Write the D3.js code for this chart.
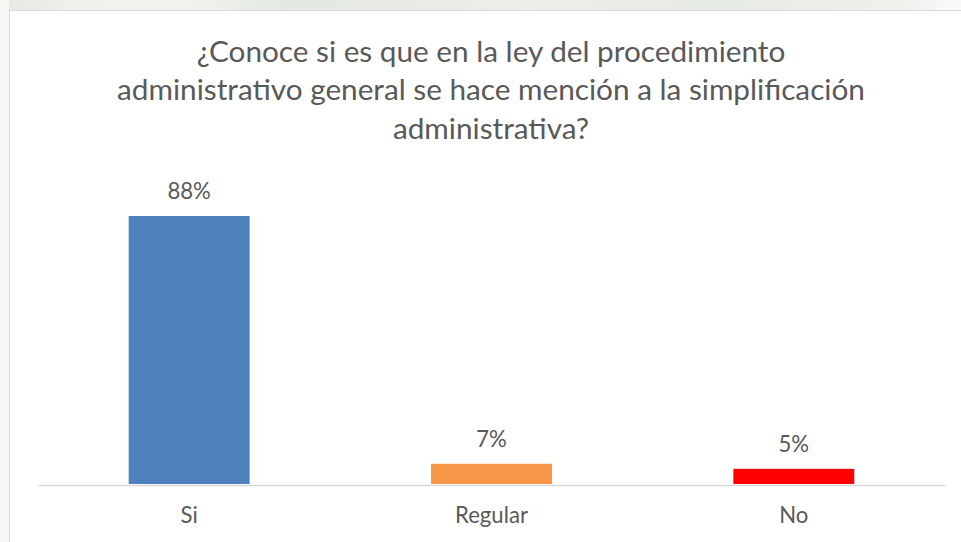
<!DOCTYPE html>
<html>
<head>
<meta charset="utf-8">
<script src="https://cdn.jsdelivr.net/npm/d3@7"></script>
<style>
  html, body { margin: 0; padding: 0; background: #ffffff; overflow: hidden; }
  svg { display: block; }
</style>
</head>
<body>
<script>
// ---- data ----
const categories = ["Si", "Regular", "No"];
const values = [0.8833, 0.0667, 0.05];
const barColors = ["#4F81BD", "#F79646", "#FF0000"];
const titleLines = [
  "¿Conoce si es que en la ley del procedimiento",
  "administrativo general se hace mención a la simplificación",
  "administrativa?"
];

const W = 961, H = 542;
const FONT = "Lato, 'Open Sans', sans-serif";
const TEXT = "#595959";

const svg = d3.select("body").append("svg").attr("width", W).attr("height", H);

// faint watermark strip above the chart frame
const defs = svg.append("defs");
const grad = defs.append("linearGradient").attr("id", "wm").attr("x1", 0).attr("x2", 1);
[[0, "#e4e9e1"], [0.08, "#eef1ec"], [0.2, "#f0f2ee"], [0.3, "#e3e8e1"], [0.55, "#eceee9"], [0.75, "#e6eae4"], [0.93, "#eef0ec"], [1, "#fafafa"]]
  .forEach(([o, c]) => grad.append("stop").attr("offset", o).attr("stop-color", c));
svg.append("rect").attr("x", 0).attr("y", 0).attr("width", W).attr("height", 10).attr("fill", "url(#wm)");
svg.append("rect").attr("x", 0).attr("y", 0).attr("width", 9).attr("height", H).attr("fill", "#f6f7f5");

// chart frame (only top and left edges visible)
svg.append("rect").attr("x", 9).attr("y", 10).attr("width", W - 9).attr("height", H - 10).attr("fill", "#ffffff");
svg.append("line").attr("x1", 9).attr("x2", W).attr("y1", 10.5).attr("y2", 10.5)
  .attr("stroke", "#d9d9d9").attr("stroke-width", 1);
svg.append("line").attr("x1", 9.5).attr("x2", 9.5).attr("y1", 10).attr("y2", H)
  .attr("stroke", "#d9d9d9").attr("stroke-width", 1);

function fitText(sel, target) {
  const w = sel.node().getComputedTextLength();
  const f = +sel.attr("font-size");
  return f * target / w;
}

// title
const title = svg.append("g");
const baselines = [62, 100, 139];
const tl = titleLines.map((t, i) => title.append("text")
  .attr("x", 491).attr("y", baselines[i]).attr("text-anchor", "middle")
  .attr("font-family", FONT).attr("font-size", 20).attr("fill", TEXT).text(t));
const fs = fitText(tl[1], 748);
tl.forEach(t => t.attr("font-size", fs));

// scales
const x = d3.scaleBand().domain(categories).range([38, 945]).paddingInner(0.6).paddingOuter(0.3);
const y = d3.scaleLinear().domain([0, 1]).range([484, 180.6]);

// bars
svg.append("g").selectAll("rect").data(values).join("rect")
  .attr("x", (d, i) => x(categories[i]))
  .attr("y", d => y(d))
  .attr("width", x.bandwidth())
  .attr("height", d => y(0) - y(d))
  .attr("fill", (d, i) => barColors[i]);

// axis line + category labels
const axis = svg.append("g").attr("transform", `translate(0,${y(0) + 1})`)
  .call(d3.axisBottom(x).tickSize(0).tickSizeOuter(0).tickPadding(0));
axis.select(".domain").attr("stroke", "#d9d9d9").attr("stroke-width", 1.5);
const ticks = axis.selectAll(".tick text").attr("font-family", FONT).attr("font-size", 20)
  .attr("fill", TEXT).attr("dy", 0).attr("y", 38);
const regular = ticks.filter(d => d === "Regular");
const lfs = fitText(regular, 73);
ticks.attr("font-size", lfs);

// value labels
const fmt = d3.format(".0%");
svg.append("g").selectAll("text").data(values).join("text")
  .attr("x", (d, i) => x(categories[i]) + x.bandwidth() / 2)
  .attr("y", d => y(d) - 17)
  .attr("text-anchor", "middle")
  .attr("font-family", FONT).attr("font-size", lfs).attr("fill", TEXT)
  .text(d => fmt(d));
</script>
</body>
</html>
